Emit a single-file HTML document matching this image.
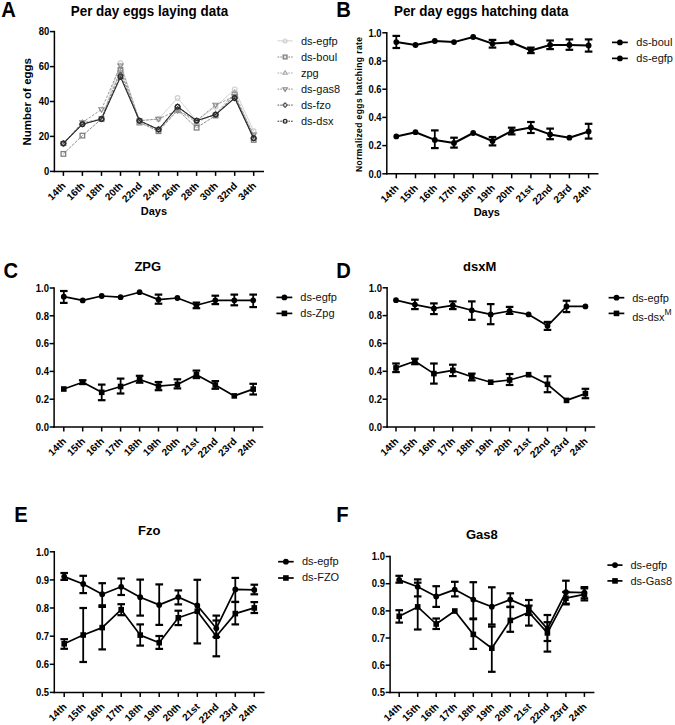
<!DOCTYPE html>
<html><head><meta charset="utf-8"><style>
html,body{margin:0;padding:0;background:#fff;}
svg{display:block;}
text{font-family:"Liberation Sans", sans-serif;}
</style></head><body>
<svg width="675" height="725" viewBox="0 0 675 725" font-family='"Liberation Sans", sans-serif'>
<defs><clipPath id="clipA"><rect x="0" y="0" width="340" height="240"/></clipPath></defs>
<rect width="675" height="725" fill="#fff"/>
<g clip-path="url(#clipA)">
<line x1="54.4" y1="30.8" x2="54.4" y2="172.20000000000002" stroke="#000" stroke-width="1.5"/>
<line x1="53.6" y1="171.4" x2="264" y2="171.4" stroke="#000" stroke-width="1.5"/>
<line x1="49.9" y1="171.4" x2="54.4" y2="171.4" stroke="#000" stroke-width="1.5"/>
<text transform="translate(49.20,175.20) scale(0.9,1)" font-size="10.5" font-weight="bold" text-anchor="end">0</text>
<line x1="49.9" y1="136.4" x2="54.4" y2="136.4" stroke="#000" stroke-width="1.5"/>
<text transform="translate(49.20,140.25) scale(0.9,1)" font-size="10.5" font-weight="bold" text-anchor="end">20</text>
<line x1="49.9" y1="101.5" x2="54.4" y2="101.5" stroke="#000" stroke-width="1.5"/>
<text transform="translate(49.20,105.30) scale(0.9,1)" font-size="10.5" font-weight="bold" text-anchor="end">40</text>
<line x1="49.9" y1="66.6" x2="54.4" y2="66.6" stroke="#000" stroke-width="1.5"/>
<text transform="translate(49.20,70.35) scale(0.9,1)" font-size="10.5" font-weight="bold" text-anchor="end">60</text>
<line x1="49.9" y1="31.6" x2="54.4" y2="31.6" stroke="#000" stroke-width="1.5"/>
<text transform="translate(49.20,35.40) scale(0.9,1)" font-size="10.5" font-weight="bold" text-anchor="end">80</text>
<line x1="63.4" y1="171.4" x2="63.4" y2="175.9" stroke="#000" stroke-width="1.5"/>
<text transform="translate(66.4,186.4) rotate(-45)" font-size="10" font-weight="bold" text-anchor="end">14th</text>
<line x1="82.4" y1="171.4" x2="82.4" y2="175.9" stroke="#000" stroke-width="1.5"/>
<text transform="translate(85.4,186.4) rotate(-45)" font-size="10" font-weight="bold" text-anchor="end">16th</text>
<line x1="101.5" y1="171.4" x2="101.5" y2="175.9" stroke="#000" stroke-width="1.5"/>
<text transform="translate(104.5,186.4) rotate(-45)" font-size="10" font-weight="bold" text-anchor="end">18th</text>
<line x1="120.5" y1="171.4" x2="120.5" y2="175.9" stroke="#000" stroke-width="1.5"/>
<text transform="translate(123.5,186.4) rotate(-45)" font-size="10" font-weight="bold" text-anchor="end">20th</text>
<line x1="139.5" y1="171.4" x2="139.5" y2="175.9" stroke="#000" stroke-width="1.5"/>
<text transform="translate(142.5,186.4) rotate(-45)" font-size="10" font-weight="bold" text-anchor="end">22nd</text>
<line x1="158.6" y1="171.4" x2="158.6" y2="175.9" stroke="#000" stroke-width="1.5"/>
<text transform="translate(161.6,186.4) rotate(-45)" font-size="10" font-weight="bold" text-anchor="end">24th</text>
<line x1="177.6" y1="171.4" x2="177.6" y2="175.9" stroke="#000" stroke-width="1.5"/>
<text transform="translate(180.6,186.4) rotate(-45)" font-size="10" font-weight="bold" text-anchor="end">26th</text>
<line x1="196.6" y1="171.4" x2="196.6" y2="175.9" stroke="#000" stroke-width="1.5"/>
<text transform="translate(199.6,186.4) rotate(-45)" font-size="10" font-weight="bold" text-anchor="end">28th</text>
<line x1="215.6" y1="171.4" x2="215.6" y2="175.9" stroke="#000" stroke-width="1.5"/>
<text transform="translate(218.6,186.4) rotate(-45)" font-size="10" font-weight="bold" text-anchor="end">30th</text>
<line x1="234.7" y1="171.4" x2="234.7" y2="175.9" stroke="#000" stroke-width="1.5"/>
<text transform="translate(237.7,186.4) rotate(-45)" font-size="10" font-weight="bold" text-anchor="end">32nd</text>
<line x1="253.7" y1="171.4" x2="253.7" y2="175.9" stroke="#000" stroke-width="1.5"/>
<text transform="translate(256.7,186.4) rotate(-45)" font-size="10" font-weight="bold" text-anchor="end">34th</text>
<polyline points="63.4,143.4 82.4,124.2 101.5,119.0 120.5,63.1 139.5,120.7 158.6,119.0 177.6,98.0 196.6,120.7 215.6,106.7 234.7,89.3 253.7,131.2" fill="none" stroke="#cfcfcf" stroke-width="0.9"/>
<circle cx="63.4" cy="143.4" r="2.3" fill="none" stroke="#cfcfcf" stroke-width="1.2"/>
<circle cx="82.4" cy="124.2" r="2.3" fill="none" stroke="#cfcfcf" stroke-width="1.2"/>
<circle cx="101.5" cy="119.0" r="2.3" fill="none" stroke="#cfcfcf" stroke-width="1.2"/>
<circle cx="120.5" cy="63.1" r="2.3" fill="none" stroke="#cfcfcf" stroke-width="1.2"/>
<circle cx="139.5" cy="120.7" r="2.3" fill="none" stroke="#cfcfcf" stroke-width="1.2"/>
<circle cx="158.6" cy="119.0" r="2.3" fill="none" stroke="#cfcfcf" stroke-width="1.2"/>
<circle cx="177.6" cy="98.0" r="2.3" fill="none" stroke="#cfcfcf" stroke-width="1.2"/>
<circle cx="196.6" cy="120.7" r="2.3" fill="none" stroke="#cfcfcf" stroke-width="1.2"/>
<circle cx="215.6" cy="106.7" r="2.3" fill="none" stroke="#cfcfcf" stroke-width="1.2"/>
<circle cx="234.7" cy="89.3" r="2.3" fill="none" stroke="#cfcfcf" stroke-width="1.2"/>
<circle cx="253.7" cy="131.2" r="2.3" fill="none" stroke="#cfcfcf" stroke-width="1.2"/>
<polyline points="63.4,153.9 82.4,135.6 101.5,119.0 120.5,70.0 139.5,122.5 158.6,131.2 177.6,110.2 196.6,127.7 215.6,115.5 234.7,94.5 253.7,139.9" fill="none" stroke="#808080" stroke-width="0.9" stroke-dasharray="3,1"/>
<rect x="61.1" y="151.6" width="4.6" height="4.6" fill="none" stroke="#808080" stroke-width="1.3"/>
<rect x="80.1" y="133.3" width="4.6" height="4.6" fill="none" stroke="#808080" stroke-width="1.3"/>
<rect x="99.2" y="116.7" width="4.6" height="4.6" fill="none" stroke="#808080" stroke-width="1.3"/>
<rect x="118.2" y="67.7" width="4.6" height="4.6" fill="none" stroke="#808080" stroke-width="1.3"/>
<rect x="137.2" y="120.2" width="4.6" height="4.6" fill="none" stroke="#808080" stroke-width="1.3"/>
<rect x="156.2" y="128.9" width="4.6" height="4.6" fill="none" stroke="#808080" stroke-width="1.3"/>
<rect x="175.3" y="107.9" width="4.6" height="4.6" fill="none" stroke="#808080" stroke-width="1.3"/>
<rect x="194.3" y="125.4" width="4.6" height="4.6" fill="none" stroke="#808080" stroke-width="1.3"/>
<rect x="213.3" y="113.2" width="4.6" height="4.6" fill="none" stroke="#808080" stroke-width="1.3"/>
<rect x="232.4" y="92.2" width="4.6" height="4.6" fill="none" stroke="#808080" stroke-width="1.3"/>
<rect x="251.4" y="137.6" width="4.6" height="4.6" fill="none" stroke="#808080" stroke-width="1.3"/>
<polyline points="63.4,143.4 82.4,122.5 101.5,119.0 120.5,71.8 139.5,122.5 158.6,129.5 177.6,110.2 196.6,122.5 215.6,113.7 234.7,92.8 253.7,136.4" fill="none" stroke="#a8a8a8" stroke-width="0.9" stroke-dasharray="2.5,1.5"/>
<path d="M63.4,140.7 L66.1,145.1 L60.7,145.1 Z" fill="none" stroke="#a8a8a8" stroke-width="1.1"/>
<path d="M82.4,119.8 L85.1,124.2 L79.7,124.2 Z" fill="none" stroke="#a8a8a8" stroke-width="1.1"/>
<path d="M101.5,116.3 L104.2,120.7 L98.8,120.7 Z" fill="none" stroke="#a8a8a8" stroke-width="1.1"/>
<path d="M120.5,69.1 L123.2,73.5 L117.8,73.5 Z" fill="none" stroke="#a8a8a8" stroke-width="1.1"/>
<path d="M139.5,119.8 L142.2,124.2 L136.8,124.2 Z" fill="none" stroke="#a8a8a8" stroke-width="1.1"/>
<path d="M158.6,126.8 L161.3,131.2 L155.8,131.2 Z" fill="none" stroke="#a8a8a8" stroke-width="1.1"/>
<path d="M177.6,107.5 L180.3,111.9 L174.9,111.9 Z" fill="none" stroke="#a8a8a8" stroke-width="1.1"/>
<path d="M196.6,119.8 L199.3,124.2 L193.9,124.2 Z" fill="none" stroke="#a8a8a8" stroke-width="1.1"/>
<path d="M215.6,111.0 L218.3,115.4 L212.9,115.4 Z" fill="none" stroke="#a8a8a8" stroke-width="1.1"/>
<path d="M234.7,90.1 L237.4,94.5 L232.0,94.5 Z" fill="none" stroke="#a8a8a8" stroke-width="1.1"/>
<path d="M253.7,133.7 L256.4,138.2 L251.0,138.2 Z" fill="none" stroke="#a8a8a8" stroke-width="1.1"/>
<polyline points="63.4,143.4 82.4,122.5 101.5,109.4 120.5,65.7 139.5,120.7 158.6,119.0 177.6,110.2 196.6,120.7 215.6,105.0 234.7,96.3 253.7,134.7" fill="none" stroke="#8a8a8a" stroke-width="0.9" stroke-dasharray="2.5,1.5"/>
<path d="M63.4,146.1 L66.1,141.7 L60.7,141.7 Z" fill="none" stroke="#8a8a8a" stroke-width="1.1"/>
<path d="M82.4,125.2 L85.1,120.8 L79.7,120.8 Z" fill="none" stroke="#8a8a8a" stroke-width="1.1"/>
<path d="M101.5,112.1 L104.2,107.7 L98.8,107.7 Z" fill="none" stroke="#8a8a8a" stroke-width="1.1"/>
<path d="M120.5,68.4 L123.2,64.0 L117.8,64.0 Z" fill="none" stroke="#8a8a8a" stroke-width="1.1"/>
<path d="M139.5,123.4 L142.2,119.0 L136.8,119.0 Z" fill="none" stroke="#8a8a8a" stroke-width="1.1"/>
<path d="M158.6,121.7 L161.3,117.3 L155.8,117.3 Z" fill="none" stroke="#8a8a8a" stroke-width="1.1"/>
<path d="M177.6,112.9 L180.3,108.5 L174.9,108.5 Z" fill="none" stroke="#8a8a8a" stroke-width="1.1"/>
<path d="M196.6,123.4 L199.3,119.0 L193.9,119.0 Z" fill="none" stroke="#8a8a8a" stroke-width="1.1"/>
<path d="M215.6,107.7 L218.3,103.3 L212.9,103.3 Z" fill="none" stroke="#8a8a8a" stroke-width="1.1"/>
<path d="M234.7,99.0 L237.4,94.6 L232.0,94.6 Z" fill="none" stroke="#8a8a8a" stroke-width="1.1"/>
<path d="M253.7,137.4 L256.4,133.0 L251.0,133.0 Z" fill="none" stroke="#8a8a8a" stroke-width="1.1"/>
<polyline points="63.4,143.4 82.4,124.2 101.5,119.0 120.5,75.3 139.5,120.7 158.6,129.5 177.6,106.7 196.6,120.7 215.6,114.6 234.7,98.0 253.7,138.2" fill="none" stroke="#555" stroke-width="0.9" stroke-dasharray="2.5,1.5"/>
<path d="M63.4,140.7 L66.1,143.4 L63.4,146.1 L60.7,143.4 Z" fill="none" stroke="#555" stroke-width="1.1"/>
<path d="M82.4,121.5 L85.1,124.2 L82.4,126.9 L79.7,124.2 Z" fill="none" stroke="#555" stroke-width="1.1"/>
<path d="M101.5,116.3 L104.2,119.0 L101.5,121.7 L98.8,119.0 Z" fill="none" stroke="#555" stroke-width="1.1"/>
<path d="M120.5,72.6 L123.2,75.3 L120.5,78.0 L117.8,75.3 Z" fill="none" stroke="#555" stroke-width="1.1"/>
<path d="M139.5,118.0 L142.2,120.7 L139.5,123.4 L136.8,120.7 Z" fill="none" stroke="#555" stroke-width="1.1"/>
<path d="M158.6,126.8 L161.3,129.5 L158.6,132.2 L155.8,129.5 Z" fill="none" stroke="#555" stroke-width="1.1"/>
<path d="M177.6,104.0 L180.3,106.7 L177.6,109.4 L174.9,106.7 Z" fill="none" stroke="#555" stroke-width="1.1"/>
<path d="M196.6,118.0 L199.3,120.7 L196.6,123.4 L193.9,120.7 Z" fill="none" stroke="#555" stroke-width="1.1"/>
<path d="M215.6,111.9 L218.3,114.6 L215.6,117.3 L212.9,114.6 Z" fill="none" stroke="#555" stroke-width="1.1"/>
<path d="M234.7,95.3 L237.4,98.0 L234.7,100.7 L232.0,98.0 Z" fill="none" stroke="#555" stroke-width="1.1"/>
<path d="M253.7,135.5 L256.4,138.2 L253.7,140.9 L251.0,138.2 Z" fill="none" stroke="#555" stroke-width="1.1"/>
<polyline points="63.4,143.4 82.4,124.2 101.5,119.0 120.5,77.0 139.5,120.7 158.6,129.5 177.6,106.7 196.6,120.7 215.6,114.6 234.7,98.0 253.7,138.2" fill="none" stroke="#2a2a2a" stroke-width="1.1"/>
<circle cx="63.4" cy="143.4" r="2.3" fill="none" stroke="#2a2a2a" stroke-width="1.2"/>
<circle cx="82.4" cy="124.2" r="2.3" fill="none" stroke="#2a2a2a" stroke-width="1.2"/>
<circle cx="101.5" cy="119.0" r="2.3" fill="none" stroke="#2a2a2a" stroke-width="1.2"/>
<circle cx="120.5" cy="77.0" r="2.3" fill="none" stroke="#2a2a2a" stroke-width="1.2"/>
<circle cx="139.5" cy="120.7" r="2.3" fill="none" stroke="#2a2a2a" stroke-width="1.2"/>
<circle cx="158.6" cy="129.5" r="2.3" fill="none" stroke="#2a2a2a" stroke-width="1.2"/>
<circle cx="177.6" cy="106.7" r="2.3" fill="none" stroke="#2a2a2a" stroke-width="1.2"/>
<circle cx="196.6" cy="120.7" r="2.3" fill="none" stroke="#2a2a2a" stroke-width="1.2"/>
<circle cx="215.6" cy="114.6" r="2.3" fill="none" stroke="#2a2a2a" stroke-width="1.2"/>
<circle cx="234.7" cy="98.0" r="2.3" fill="none" stroke="#2a2a2a" stroke-width="1.2"/>
<circle cx="253.7" cy="138.2" r="2.3" fill="none" stroke="#2a2a2a" stroke-width="1.2"/>
<line x1="277.6" y1="40.9" x2="292.7" y2="40.9" stroke="#cfcfcf" stroke-width="1"/>
<circle cx="285.1" cy="40.9" r="1.9" fill="none" stroke="#cfcfcf" stroke-width="1.2"/>
<text x="301.0" y="44.8" font-size="11" text-anchor="start" fill="#111" >ds-egfp</text>
<line x1="277.6" y1="57.0" x2="292.7" y2="57.0" stroke="#808080" stroke-width="1" stroke-dasharray="1.6,1.1"/>
<rect x="283.2" y="55.1" width="3.8" height="3.8" fill="none" stroke="#808080" stroke-width="1.3"/>
<text x="301.0" y="60.9" font-size="11" text-anchor="start" fill="#111" >ds-boul</text>
<line x1="277.6" y1="73.0" x2="292.7" y2="73.0" stroke="#a8a8a8" stroke-width="1" stroke-dasharray="1.6,1.1"/>
<path d="M285.1,70.7 L287.4,74.3 L282.8,74.3 Z" fill="none" stroke="#a8a8a8" stroke-width="1.1"/>
<text x="301.0" y="76.9" font-size="11" text-anchor="start" fill="#111" >zpg</text>
<line x1="277.6" y1="89.1" x2="292.7" y2="89.1" stroke="#8a8a8a" stroke-width="1" stroke-dasharray="1.6,1.1"/>
<path d="M285.1,91.4 L287.4,87.8 L282.8,87.8 Z" fill="none" stroke="#8a8a8a" stroke-width="1.1"/>
<text x="301.0" y="93.0" font-size="11" text-anchor="start" fill="#111" >ds-gas8</text>
<line x1="277.6" y1="105.1" x2="292.7" y2="105.1" stroke="#555" stroke-width="1" stroke-dasharray="1.6,1.1"/>
<path d="M285.1,102.8 L287.4,105.1 L285.1,107.4 L282.8,105.1 Z" fill="none" stroke="#555" stroke-width="1.1"/>
<text x="301.0" y="109.0" font-size="11" text-anchor="start" fill="#111" >ds-fzo</text>
<line x1="277.6" y1="121.2" x2="292.7" y2="121.2" stroke="#2a2a2a" stroke-width="1" stroke-dasharray="1.6,1.1"/>
<circle cx="285.1" cy="121.2" r="1.9" fill="none" stroke="#2a2a2a" stroke-width="1.2"/>
<text x="301.0" y="125.1" font-size="11" text-anchor="start" fill="#111" >ds-dsx</text>
</g>
<text transform="translate(1.20,16.50) scale(0.92,1)" font-size="22" font-weight="bold" text-anchor="start">A</text>
<text transform="translate(149.40,16.00) scale(0.92,1)" font-size="14.6" font-weight="bold" text-anchor="middle">Per day eggs laying data</text>
<text x="153.9" y="215.3" font-size="11" font-weight="bold" text-anchor="middle" fill="#000" >Days</text>
<text transform="translate(31,101.8) rotate(-90)" font-size="11.5" font-weight="bold" text-anchor="middle">Number of eggs</text>
<line x1="386.8" y1="31.999999999999996" x2="386.8" y2="174.60000000000002" stroke="#000" stroke-width="1.5"/>
<line x1="386.0" y1="173.8" x2="598.5" y2="173.8" stroke="#000" stroke-width="1.5"/>
<line x1="382.3" y1="173.8" x2="386.8" y2="173.8" stroke="#000" stroke-width="1.5"/>
<text transform="translate(381.60,177.60) scale(0.9,1)" font-size="10.5" font-weight="bold" text-anchor="end">0.0</text>
<line x1="382.3" y1="145.6" x2="386.8" y2="145.6" stroke="#000" stroke-width="1.5"/>
<text transform="translate(381.60,149.40) scale(0.9,1)" font-size="10.5" font-weight="bold" text-anchor="end">0.2</text>
<line x1="382.3" y1="117.4" x2="386.8" y2="117.4" stroke="#000" stroke-width="1.5"/>
<text transform="translate(381.60,121.20) scale(0.9,1)" font-size="10.5" font-weight="bold" text-anchor="end">0.4</text>
<line x1="382.3" y1="89.2" x2="386.8" y2="89.2" stroke="#000" stroke-width="1.5"/>
<text transform="translate(381.60,93.00) scale(0.9,1)" font-size="10.5" font-weight="bold" text-anchor="end">0.6</text>
<line x1="382.3" y1="61.0" x2="386.8" y2="61.0" stroke="#000" stroke-width="1.5"/>
<text transform="translate(381.60,64.80) scale(0.9,1)" font-size="10.5" font-weight="bold" text-anchor="end">0.8</text>
<line x1="382.3" y1="32.8" x2="386.8" y2="32.8" stroke="#000" stroke-width="1.5"/>
<text transform="translate(381.60,36.60) scale(0.9,1)" font-size="10.5" font-weight="bold" text-anchor="end">1.0</text>
<line x1="396.3" y1="173.8" x2="396.3" y2="178.3" stroke="#000" stroke-width="1.5"/>
<text transform="translate(399.3,188.8) rotate(-45)" font-size="10" font-weight="bold" text-anchor="end">14th</text>
<line x1="415.5" y1="173.8" x2="415.5" y2="178.3" stroke="#000" stroke-width="1.5"/>
<text transform="translate(418.5,188.8) rotate(-45)" font-size="10" font-weight="bold" text-anchor="end">15th</text>
<line x1="434.8" y1="173.8" x2="434.8" y2="178.3" stroke="#000" stroke-width="1.5"/>
<text transform="translate(437.8,188.8) rotate(-45)" font-size="10" font-weight="bold" text-anchor="end">16th</text>
<line x1="454.0" y1="173.8" x2="454.0" y2="178.3" stroke="#000" stroke-width="1.5"/>
<text transform="translate(457.0,188.8) rotate(-45)" font-size="10" font-weight="bold" text-anchor="end">17th</text>
<line x1="473.2" y1="173.8" x2="473.2" y2="178.3" stroke="#000" stroke-width="1.5"/>
<text transform="translate(476.2,188.8) rotate(-45)" font-size="10" font-weight="bold" text-anchor="end">18th</text>
<line x1="492.5" y1="173.8" x2="492.5" y2="178.3" stroke="#000" stroke-width="1.5"/>
<text transform="translate(495.5,188.8) rotate(-45)" font-size="10" font-weight="bold" text-anchor="end">19th</text>
<line x1="511.7" y1="173.8" x2="511.7" y2="178.3" stroke="#000" stroke-width="1.5"/>
<text transform="translate(514.7,188.8) rotate(-45)" font-size="10" font-weight="bold" text-anchor="end">20th</text>
<line x1="530.9" y1="173.8" x2="530.9" y2="178.3" stroke="#000" stroke-width="1.5"/>
<text transform="translate(533.9,188.8) rotate(-45)" font-size="10" font-weight="bold" text-anchor="end">21st</text>
<line x1="550.1" y1="173.8" x2="550.1" y2="178.3" stroke="#000" stroke-width="1.5"/>
<text transform="translate(553.1,188.8) rotate(-45)" font-size="10" font-weight="bold" text-anchor="end">22nd</text>
<line x1="569.4" y1="173.8" x2="569.4" y2="178.3" stroke="#000" stroke-width="1.5"/>
<text transform="translate(572.4,188.8) rotate(-45)" font-size="10" font-weight="bold" text-anchor="end">23rd</text>
<line x1="588.6" y1="173.8" x2="588.6" y2="178.3" stroke="#000" stroke-width="1.5"/>
<text transform="translate(591.6,188.8) rotate(-45)" font-size="10" font-weight="bold" text-anchor="end">24th</text>
<polyline points="396.3,42.1 415.5,45.0 434.8,41.0 454.0,42.1 473.2,37.0 492.5,43.6 511.7,42.5 530.9,50.5 550.1,45.0 569.4,45.0 588.6,45.4" fill="none" stroke="#000" stroke-width="2.0" stroke-linejoin="round"/>
<line x1="396.3" y1="35.9" x2="396.3" y2="48.0" stroke="#000" stroke-width="1.8"/>
<line x1="392.5" y1="35.9" x2="400.1" y2="35.9" stroke="#000" stroke-width="2.2"/>
<line x1="392.5" y1="48.0" x2="400.1" y2="48.0" stroke="#000" stroke-width="2.2"/>
<line x1="492.5" y1="39.9" x2="492.5" y2="47.6" stroke="#000" stroke-width="1.8"/>
<line x1="488.7" y1="39.9" x2="496.3" y2="39.9" stroke="#000" stroke-width="2.2"/>
<line x1="488.7" y1="47.6" x2="496.3" y2="47.6" stroke="#000" stroke-width="2.2"/>
<line x1="530.9" y1="47.6" x2="530.9" y2="53.1" stroke="#000" stroke-width="1.8"/>
<line x1="527.1" y1="47.6" x2="534.7" y2="47.6" stroke="#000" stroke-width="2.2"/>
<line x1="527.1" y1="53.1" x2="534.7" y2="53.1" stroke="#000" stroke-width="2.2"/>
<line x1="550.1" y1="40.5" x2="550.1" y2="49.1" stroke="#000" stroke-width="1.8"/>
<line x1="546.3" y1="40.5" x2="553.9" y2="40.5" stroke="#000" stroke-width="2.2"/>
<line x1="546.3" y1="49.1" x2="553.9" y2="49.1" stroke="#000" stroke-width="2.2"/>
<line x1="569.4" y1="39.4" x2="569.4" y2="49.8" stroke="#000" stroke-width="1.8"/>
<line x1="565.6" y1="39.4" x2="573.2" y2="39.4" stroke="#000" stroke-width="2.2"/>
<line x1="565.6" y1="49.8" x2="573.2" y2="49.8" stroke="#000" stroke-width="2.2"/>
<line x1="588.6" y1="39.4" x2="588.6" y2="51.6" stroke="#000" stroke-width="1.8"/>
<line x1="584.8" y1="39.4" x2="592.4" y2="39.4" stroke="#000" stroke-width="2.2"/>
<line x1="584.8" y1="51.6" x2="592.4" y2="51.6" stroke="#000" stroke-width="2.2"/>
<circle cx="396.3" cy="42.1" r="2.9" fill="#000"/>
<circle cx="415.5" cy="45.0" r="2.9" fill="#000"/>
<circle cx="434.8" cy="41.0" r="2.9" fill="#000"/>
<circle cx="454.0" cy="42.1" r="2.9" fill="#000"/>
<circle cx="473.2" cy="37.0" r="2.9" fill="#000"/>
<circle cx="492.5" cy="43.6" r="2.9" fill="#000"/>
<circle cx="511.7" cy="42.5" r="2.9" fill="#000"/>
<circle cx="530.9" cy="50.5" r="2.9" fill="#000"/>
<circle cx="550.1" cy="45.0" r="2.9" fill="#000"/>
<circle cx="569.4" cy="45.0" r="2.9" fill="#000"/>
<circle cx="588.6" cy="45.4" r="2.9" fill="#000"/>
<polyline points="396.3,136.4 415.5,132.2 434.8,139.9 454.0,143.0 473.2,133.0 492.5,141.0 511.7,131.1 530.9,127.5 550.1,134.4 569.4,137.7 588.6,131.5" fill="none" stroke="#000" stroke-width="2.0" stroke-linejoin="round"/>
<line x1="434.8" y1="130.4" x2="434.8" y2="148.1" stroke="#000" stroke-width="1.8"/>
<line x1="431.0" y1="130.4" x2="438.6" y2="130.4" stroke="#000" stroke-width="2.2"/>
<line x1="431.0" y1="148.1" x2="438.6" y2="148.1" stroke="#000" stroke-width="2.2"/>
<line x1="454.0" y1="137.7" x2="454.0" y2="147.6" stroke="#000" stroke-width="1.8"/>
<line x1="450.2" y1="137.7" x2="457.8" y2="137.7" stroke="#000" stroke-width="2.2"/>
<line x1="450.2" y1="147.6" x2="457.8" y2="147.6" stroke="#000" stroke-width="2.2"/>
<line x1="492.5" y1="137.0" x2="492.5" y2="145.4" stroke="#000" stroke-width="1.8"/>
<line x1="488.7" y1="137.0" x2="496.3" y2="137.0" stroke="#000" stroke-width="2.2"/>
<line x1="488.7" y1="145.4" x2="496.3" y2="145.4" stroke="#000" stroke-width="2.2"/>
<line x1="511.7" y1="127.7" x2="511.7" y2="134.4" stroke="#000" stroke-width="1.8"/>
<line x1="507.9" y1="127.7" x2="515.5" y2="127.7" stroke="#000" stroke-width="2.2"/>
<line x1="507.9" y1="134.4" x2="515.5" y2="134.4" stroke="#000" stroke-width="2.2"/>
<line x1="530.9" y1="122.0" x2="530.9" y2="133.0" stroke="#000" stroke-width="1.8"/>
<line x1="527.1" y1="122.0" x2="534.7" y2="122.0" stroke="#000" stroke-width="2.2"/>
<line x1="527.1" y1="133.0" x2="534.7" y2="133.0" stroke="#000" stroke-width="2.2"/>
<line x1="550.1" y1="128.6" x2="550.1" y2="139.2" stroke="#000" stroke-width="1.8"/>
<line x1="546.3" y1="128.6" x2="553.9" y2="128.6" stroke="#000" stroke-width="2.2"/>
<line x1="546.3" y1="139.2" x2="553.9" y2="139.2" stroke="#000" stroke-width="2.2"/>
<line x1="588.6" y1="123.8" x2="588.6" y2="138.6" stroke="#000" stroke-width="1.8"/>
<line x1="584.8" y1="123.8" x2="592.4" y2="123.8" stroke="#000" stroke-width="2.2"/>
<line x1="584.8" y1="138.6" x2="592.4" y2="138.6" stroke="#000" stroke-width="2.2"/>
<circle cx="396.3" cy="136.4" r="2.9" fill="#000"/>
<circle cx="415.5" cy="132.2" r="2.9" fill="#000"/>
<circle cx="434.8" cy="139.9" r="2.9" fill="#000"/>
<circle cx="454.0" cy="143.0" r="2.9" fill="#000"/>
<circle cx="473.2" cy="133.0" r="2.9" fill="#000"/>
<circle cx="492.5" cy="141.0" r="2.9" fill="#000"/>
<circle cx="511.7" cy="131.1" r="2.9" fill="#000"/>
<circle cx="530.9" cy="127.5" r="2.9" fill="#000"/>
<circle cx="550.1" cy="134.4" r="2.9" fill="#000"/>
<circle cx="569.4" cy="137.7" r="2.9" fill="#000"/>
<circle cx="588.6" cy="131.5" r="2.9" fill="#000"/>
<line x1="612" y1="42.4" x2="627.8" y2="42.4" stroke="#000" stroke-width="1.7"/>
<circle cx="619.9" cy="42.4" r="2.9" fill="#000"/>
<text x="636.3" y="46.2" font-size="11" text-anchor="start" fill="#111" >ds-boul</text>
<line x1="612" y1="58.4" x2="627.8" y2="58.4" stroke="#000" stroke-width="1.7"/>
<circle cx="619.9" cy="58.4" r="2.9" fill="#000"/>
<text x="636.3" y="62.2" font-size="11" text-anchor="start" fill="#111" >ds-egfp</text>
<text transform="translate(336.30,16.50) scale(0.92,1)" font-size="22" font-weight="bold" text-anchor="start">B</text>
<text transform="translate(481.20,16.00) scale(0.92,1)" font-size="14.6" font-weight="bold" text-anchor="middle">Per day eggs hatching data</text>
<text x="486.8" y="215.5" font-size="11" font-weight="bold" text-anchor="middle" fill="#000" >Days</text>
<text transform="translate(361.6,104.5) rotate(-90)" font-size="8.5" font-weight="bold" text-anchor="middle" textLength="135" lengthAdjust="spacing">Normalized eggs hatching rate</text>
<line x1="54.1" y1="287.2" x2="54.1" y2="427.8" stroke="#000" stroke-width="1.5"/>
<line x1="53.300000000000004" y1="427.0" x2="263.2" y2="427.0" stroke="#000" stroke-width="1.5"/>
<line x1="49.6" y1="427.0" x2="54.1" y2="427.0" stroke="#000" stroke-width="1.5"/>
<text transform="translate(48.90,430.80) scale(0.9,1)" font-size="10.5" font-weight="bold" text-anchor="end">0.0</text>
<line x1="49.6" y1="399.2" x2="54.1" y2="399.2" stroke="#000" stroke-width="1.5"/>
<text transform="translate(48.90,403.00) scale(0.9,1)" font-size="10.5" font-weight="bold" text-anchor="end">0.2</text>
<line x1="49.6" y1="371.4" x2="54.1" y2="371.4" stroke="#000" stroke-width="1.5"/>
<text transform="translate(48.90,375.20) scale(0.9,1)" font-size="10.5" font-weight="bold" text-anchor="end">0.4</text>
<line x1="49.6" y1="343.6" x2="54.1" y2="343.6" stroke="#000" stroke-width="1.5"/>
<text transform="translate(48.90,347.40) scale(0.9,1)" font-size="10.5" font-weight="bold" text-anchor="end">0.6</text>
<line x1="49.6" y1="315.8" x2="54.1" y2="315.8" stroke="#000" stroke-width="1.5"/>
<text transform="translate(48.90,319.60) scale(0.9,1)" font-size="10.5" font-weight="bold" text-anchor="end">0.8</text>
<line x1="49.6" y1="288.0" x2="54.1" y2="288.0" stroke="#000" stroke-width="1.5"/>
<text transform="translate(48.90,291.80) scale(0.9,1)" font-size="10.5" font-weight="bold" text-anchor="end">1.0</text>
<line x1="63.8" y1="427.0" x2="63.8" y2="431.5" stroke="#000" stroke-width="1.5"/>
<text transform="translate(66.8,442.0) rotate(-45)" font-size="10" font-weight="bold" text-anchor="end">14th</text>
<line x1="82.7" y1="427.0" x2="82.7" y2="431.5" stroke="#000" stroke-width="1.5"/>
<text transform="translate(85.7,442.0) rotate(-45)" font-size="10" font-weight="bold" text-anchor="end">15th</text>
<line x1="101.7" y1="427.0" x2="101.7" y2="431.5" stroke="#000" stroke-width="1.5"/>
<text transform="translate(104.7,442.0) rotate(-45)" font-size="10" font-weight="bold" text-anchor="end">16th</text>
<line x1="120.6" y1="427.0" x2="120.6" y2="431.5" stroke="#000" stroke-width="1.5"/>
<text transform="translate(123.6,442.0) rotate(-45)" font-size="10" font-weight="bold" text-anchor="end">17th</text>
<line x1="139.6" y1="427.0" x2="139.6" y2="431.5" stroke="#000" stroke-width="1.5"/>
<text transform="translate(142.6,442.0) rotate(-45)" font-size="10" font-weight="bold" text-anchor="end">18th</text>
<line x1="158.5" y1="427.0" x2="158.5" y2="431.5" stroke="#000" stroke-width="1.5"/>
<text transform="translate(161.5,442.0) rotate(-45)" font-size="10" font-weight="bold" text-anchor="end">19th</text>
<line x1="177.4" y1="427.0" x2="177.4" y2="431.5" stroke="#000" stroke-width="1.5"/>
<text transform="translate(180.4,442.0) rotate(-45)" font-size="10" font-weight="bold" text-anchor="end">20th</text>
<line x1="196.4" y1="427.0" x2="196.4" y2="431.5" stroke="#000" stroke-width="1.5"/>
<text transform="translate(199.4,442.0) rotate(-45)" font-size="10" font-weight="bold" text-anchor="end">21st</text>
<line x1="215.3" y1="427.0" x2="215.3" y2="431.5" stroke="#000" stroke-width="1.5"/>
<text transform="translate(218.3,442.0) rotate(-45)" font-size="10" font-weight="bold" text-anchor="end">22nd</text>
<line x1="234.3" y1="427.0" x2="234.3" y2="431.5" stroke="#000" stroke-width="1.5"/>
<text transform="translate(237.3,442.0) rotate(-45)" font-size="10" font-weight="bold" text-anchor="end">23rd</text>
<line x1="253.2" y1="427.0" x2="253.2" y2="431.5" stroke="#000" stroke-width="1.5"/>
<text transform="translate(256.2,442.0) rotate(-45)" font-size="10" font-weight="bold" text-anchor="end">24th</text>
<polyline points="63.8,296.7 82.7,300.4 101.7,296.0 120.6,297.2 139.6,292.2 158.5,299.6 177.4,298.0 196.4,305.3 215.3,300.3 234.3,300.3 253.2,300.3" fill="none" stroke="#000" stroke-width="1.7" stroke-linejoin="round"/>
<line x1="63.8" y1="291.0" x2="63.8" y2="302.9" stroke="#000" stroke-width="1.8"/>
<line x1="60.0" y1="291.0" x2="67.6" y2="291.0" stroke="#000" stroke-width="2.2"/>
<line x1="60.0" y1="302.9" x2="67.6" y2="302.9" stroke="#000" stroke-width="2.2"/>
<line x1="158.5" y1="294.6" x2="158.5" y2="303.7" stroke="#000" stroke-width="1.8"/>
<line x1="154.7" y1="294.6" x2="162.3" y2="294.6" stroke="#000" stroke-width="2.2"/>
<line x1="154.7" y1="303.7" x2="162.3" y2="303.7" stroke="#000" stroke-width="2.2"/>
<line x1="196.4" y1="302.6" x2="196.4" y2="308.2" stroke="#000" stroke-width="1.8"/>
<line x1="192.6" y1="302.6" x2="200.2" y2="302.6" stroke="#000" stroke-width="2.2"/>
<line x1="192.6" y1="308.2" x2="200.2" y2="308.2" stroke="#000" stroke-width="2.2"/>
<line x1="215.3" y1="295.7" x2="215.3" y2="304.1" stroke="#000" stroke-width="1.8"/>
<line x1="211.5" y1="295.7" x2="219.1" y2="295.7" stroke="#000" stroke-width="2.2"/>
<line x1="211.5" y1="304.1" x2="219.1" y2="304.1" stroke="#000" stroke-width="2.2"/>
<line x1="234.3" y1="294.6" x2="234.3" y2="305.3" stroke="#000" stroke-width="1.8"/>
<line x1="230.5" y1="294.6" x2="238.1" y2="294.6" stroke="#000" stroke-width="2.2"/>
<line x1="230.5" y1="305.3" x2="238.1" y2="305.3" stroke="#000" stroke-width="2.2"/>
<line x1="253.2" y1="294.6" x2="253.2" y2="307.1" stroke="#000" stroke-width="1.8"/>
<line x1="249.4" y1="294.6" x2="257.0" y2="294.6" stroke="#000" stroke-width="2.2"/>
<line x1="249.4" y1="307.1" x2="257.0" y2="307.1" stroke="#000" stroke-width="2.2"/>
<circle cx="63.8" cy="296.7" r="2.9" fill="#000"/>
<circle cx="82.7" cy="300.4" r="2.9" fill="#000"/>
<circle cx="101.7" cy="296.0" r="2.9" fill="#000"/>
<circle cx="120.6" cy="297.2" r="2.9" fill="#000"/>
<circle cx="139.6" cy="292.2" r="2.9" fill="#000"/>
<circle cx="158.5" cy="299.6" r="2.9" fill="#000"/>
<circle cx="177.4" cy="298.0" r="2.9" fill="#000"/>
<circle cx="196.4" cy="305.3" r="2.9" fill="#000"/>
<circle cx="215.3" cy="300.3" r="2.9" fill="#000"/>
<circle cx="234.3" cy="300.3" r="2.9" fill="#000"/>
<circle cx="253.2" cy="300.3" r="2.9" fill="#000"/>
<polyline points="63.8,389.0 82.7,382.3 101.7,392.3 120.6,386.5 139.6,379.5 158.5,386.1 177.4,384.5 196.4,374.7 215.3,385.0 234.3,395.9 253.2,389.1" fill="none" stroke="#000" stroke-width="1.7" stroke-linejoin="round"/>
<line x1="82.7" y1="380.3" x2="82.7" y2="384.0" stroke="#000" stroke-width="1.8"/>
<line x1="78.9" y1="380.3" x2="86.5" y2="380.3" stroke="#000" stroke-width="2.2"/>
<line x1="78.9" y1="384.0" x2="86.5" y2="384.0" stroke="#000" stroke-width="2.2"/>
<line x1="101.7" y1="384.6" x2="101.7" y2="400.2" stroke="#000" stroke-width="1.8"/>
<line x1="97.9" y1="384.6" x2="105.5" y2="384.6" stroke="#000" stroke-width="2.2"/>
<line x1="97.9" y1="400.2" x2="105.5" y2="400.2" stroke="#000" stroke-width="2.2"/>
<line x1="120.6" y1="378.6" x2="120.6" y2="393.5" stroke="#000" stroke-width="1.8"/>
<line x1="116.8" y1="378.6" x2="124.4" y2="378.6" stroke="#000" stroke-width="2.2"/>
<line x1="116.8" y1="393.5" x2="124.4" y2="393.5" stroke="#000" stroke-width="2.2"/>
<line x1="139.6" y1="375.8" x2="139.6" y2="382.7" stroke="#000" stroke-width="1.8"/>
<line x1="135.8" y1="375.8" x2="143.4" y2="375.8" stroke="#000" stroke-width="2.2"/>
<line x1="135.8" y1="382.7" x2="143.4" y2="382.7" stroke="#000" stroke-width="2.2"/>
<line x1="158.5" y1="382.0" x2="158.5" y2="390.2" stroke="#000" stroke-width="1.8"/>
<line x1="154.7" y1="382.0" x2="162.3" y2="382.0" stroke="#000" stroke-width="2.2"/>
<line x1="154.7" y1="390.2" x2="162.3" y2="390.2" stroke="#000" stroke-width="2.2"/>
<line x1="177.4" y1="379.3" x2="177.4" y2="388.4" stroke="#000" stroke-width="1.8"/>
<line x1="173.6" y1="379.3" x2="181.2" y2="379.3" stroke="#000" stroke-width="2.2"/>
<line x1="173.6" y1="388.4" x2="181.2" y2="388.4" stroke="#000" stroke-width="2.2"/>
<line x1="196.4" y1="370.6" x2="196.4" y2="378.1" stroke="#000" stroke-width="1.8"/>
<line x1="192.6" y1="370.6" x2="200.2" y2="370.6" stroke="#000" stroke-width="2.2"/>
<line x1="192.6" y1="378.1" x2="200.2" y2="378.1" stroke="#000" stroke-width="2.2"/>
<line x1="215.3" y1="381.1" x2="215.3" y2="388.8" stroke="#000" stroke-width="1.8"/>
<line x1="211.5" y1="381.1" x2="219.1" y2="381.1" stroke="#000" stroke-width="2.2"/>
<line x1="211.5" y1="388.8" x2="219.1" y2="388.8" stroke="#000" stroke-width="2.2"/>
<line x1="253.2" y1="383.8" x2="253.2" y2="394.5" stroke="#000" stroke-width="1.8"/>
<line x1="249.4" y1="383.8" x2="257.0" y2="383.8" stroke="#000" stroke-width="2.2"/>
<line x1="249.4" y1="394.5" x2="257.0" y2="394.5" stroke="#000" stroke-width="2.2"/>
<rect x="61.0" y="386.2" width="5.6" height="5.6" fill="#000"/>
<rect x="79.9" y="379.5" width="5.6" height="5.6" fill="#000"/>
<rect x="98.9" y="389.5" width="5.6" height="5.6" fill="#000"/>
<rect x="117.8" y="383.7" width="5.6" height="5.6" fill="#000"/>
<rect x="136.8" y="376.7" width="5.6" height="5.6" fill="#000"/>
<rect x="155.7" y="383.3" width="5.6" height="5.6" fill="#000"/>
<rect x="174.6" y="381.7" width="5.6" height="5.6" fill="#000"/>
<rect x="193.6" y="371.9" width="5.6" height="5.6" fill="#000"/>
<rect x="212.5" y="382.2" width="5.6" height="5.6" fill="#000"/>
<rect x="231.5" y="393.1" width="5.6" height="5.6" fill="#000"/>
<rect x="250.4" y="386.3" width="5.6" height="5.6" fill="#000"/>
<line x1="276.4" y1="297.4" x2="292.3" y2="297.4" stroke="#000" stroke-width="1.7"/>
<circle cx="284.4" cy="297.4" r="2.9" fill="#000"/>
<text x="300.3" y="301.2" font-size="11" text-anchor="start" fill="#111" >ds-egfp</text>
<line x1="276.4" y1="313.4" x2="292.3" y2="313.4" stroke="#000" stroke-width="1.7"/>
<rect x="281.6" y="310.6" width="5.6" height="5.6" fill="#000"/>
<text x="300.3" y="317.2" font-size="11" text-anchor="start" fill="#111" >ds-Zpg</text>
<text transform="translate(3.60,277.50) scale(0.92,1)" font-size="22" font-weight="bold" text-anchor="start">C</text>
<text x="147.8" y="271.0" font-size="13" font-weight="bold" text-anchor="middle" fill="#000" >ZPG</text>
<line x1="387.1" y1="287.0" x2="387.1" y2="427.8" stroke="#000" stroke-width="1.5"/>
<line x1="386.3" y1="427.0" x2="595.2" y2="427.0" stroke="#000" stroke-width="1.5"/>
<line x1="382.6" y1="427.0" x2="387.1" y2="427.0" stroke="#000" stroke-width="1.5"/>
<text transform="translate(381.90,430.80) scale(0.9,1)" font-size="10.5" font-weight="bold" text-anchor="end">0.0</text>
<line x1="382.6" y1="399.2" x2="387.1" y2="399.2" stroke="#000" stroke-width="1.5"/>
<text transform="translate(381.90,402.96) scale(0.9,1)" font-size="10.5" font-weight="bold" text-anchor="end">0.2</text>
<line x1="382.6" y1="371.3" x2="387.1" y2="371.3" stroke="#000" stroke-width="1.5"/>
<text transform="translate(381.90,375.12) scale(0.9,1)" font-size="10.5" font-weight="bold" text-anchor="end">0.4</text>
<line x1="382.6" y1="343.5" x2="387.1" y2="343.5" stroke="#000" stroke-width="1.5"/>
<text transform="translate(381.90,347.28) scale(0.9,1)" font-size="10.5" font-weight="bold" text-anchor="end">0.6</text>
<line x1="382.6" y1="315.6" x2="387.1" y2="315.6" stroke="#000" stroke-width="1.5"/>
<text transform="translate(381.90,319.44) scale(0.9,1)" font-size="10.5" font-weight="bold" text-anchor="end">0.8</text>
<line x1="382.6" y1="287.8" x2="387.1" y2="287.8" stroke="#000" stroke-width="1.5"/>
<text transform="translate(381.90,291.60) scale(0.9,1)" font-size="10.5" font-weight="bold" text-anchor="end">1.0</text>
<line x1="396.0" y1="427.0" x2="396.0" y2="431.5" stroke="#000" stroke-width="1.5"/>
<text transform="translate(399.0,442.0) rotate(-45)" font-size="10" font-weight="bold" text-anchor="end">14th</text>
<line x1="414.9" y1="427.0" x2="414.9" y2="431.5" stroke="#000" stroke-width="1.5"/>
<text transform="translate(417.9,442.0) rotate(-45)" font-size="10" font-weight="bold" text-anchor="end">15th</text>
<line x1="433.9" y1="427.0" x2="433.9" y2="431.5" stroke="#000" stroke-width="1.5"/>
<text transform="translate(436.9,442.0) rotate(-45)" font-size="10" font-weight="bold" text-anchor="end">16th</text>
<line x1="452.8" y1="427.0" x2="452.8" y2="431.5" stroke="#000" stroke-width="1.5"/>
<text transform="translate(455.8,442.0) rotate(-45)" font-size="10" font-weight="bold" text-anchor="end">17th</text>
<line x1="471.8" y1="427.0" x2="471.8" y2="431.5" stroke="#000" stroke-width="1.5"/>
<text transform="translate(474.8,442.0) rotate(-45)" font-size="10" font-weight="bold" text-anchor="end">18th</text>
<line x1="490.7" y1="427.0" x2="490.7" y2="431.5" stroke="#000" stroke-width="1.5"/>
<text transform="translate(493.7,442.0) rotate(-45)" font-size="10" font-weight="bold" text-anchor="end">19th</text>
<line x1="509.6" y1="427.0" x2="509.6" y2="431.5" stroke="#000" stroke-width="1.5"/>
<text transform="translate(512.6,442.0) rotate(-45)" font-size="10" font-weight="bold" text-anchor="end">20th</text>
<line x1="528.6" y1="427.0" x2="528.6" y2="431.5" stroke="#000" stroke-width="1.5"/>
<text transform="translate(531.6,442.0) rotate(-45)" font-size="10" font-weight="bold" text-anchor="end">21st</text>
<line x1="547.5" y1="427.0" x2="547.5" y2="431.5" stroke="#000" stroke-width="1.5"/>
<text transform="translate(550.5,442.0) rotate(-45)" font-size="10" font-weight="bold" text-anchor="end">22nd</text>
<line x1="566.5" y1="427.0" x2="566.5" y2="431.5" stroke="#000" stroke-width="1.5"/>
<text transform="translate(569.5,442.0) rotate(-45)" font-size="10" font-weight="bold" text-anchor="end">23rd</text>
<line x1="585.4" y1="427.0" x2="585.4" y2="431.5" stroke="#000" stroke-width="1.5"/>
<text transform="translate(588.4,442.0) rotate(-45)" font-size="10" font-weight="bold" text-anchor="end">24th</text>
<polyline points="396.0,300.2 414.9,304.6 433.9,308.4 452.8,305.4 471.8,310.3 490.7,314.4 509.6,311.0 528.6,314.4 547.5,325.8 566.5,306.4 585.4,306.4" fill="none" stroke="#000" stroke-width="1.7" stroke-linejoin="round"/>
<line x1="414.9" y1="299.7" x2="414.9" y2="309.1" stroke="#000" stroke-width="1.8"/>
<line x1="411.1" y1="299.7" x2="418.7" y2="299.7" stroke="#000" stroke-width="2.2"/>
<line x1="411.1" y1="309.1" x2="418.7" y2="309.1" stroke="#000" stroke-width="2.2"/>
<line x1="433.9" y1="303.4" x2="433.9" y2="314.1" stroke="#000" stroke-width="1.8"/>
<line x1="430.1" y1="303.4" x2="437.7" y2="303.4" stroke="#000" stroke-width="2.2"/>
<line x1="430.1" y1="314.1" x2="437.7" y2="314.1" stroke="#000" stroke-width="2.2"/>
<line x1="452.8" y1="301.4" x2="452.8" y2="309.1" stroke="#000" stroke-width="1.8"/>
<line x1="449.0" y1="301.4" x2="456.6" y2="301.4" stroke="#000" stroke-width="2.2"/>
<line x1="449.0" y1="309.1" x2="456.6" y2="309.1" stroke="#000" stroke-width="2.2"/>
<line x1="471.8" y1="301.4" x2="471.8" y2="319.8" stroke="#000" stroke-width="1.8"/>
<line x1="468.0" y1="301.4" x2="475.6" y2="301.4" stroke="#000" stroke-width="2.2"/>
<line x1="468.0" y1="319.8" x2="475.6" y2="319.8" stroke="#000" stroke-width="2.2"/>
<line x1="490.7" y1="304.1" x2="490.7" y2="324.2" stroke="#000" stroke-width="1.8"/>
<line x1="486.9" y1="304.1" x2="494.5" y2="304.1" stroke="#000" stroke-width="2.2"/>
<line x1="486.9" y1="324.2" x2="494.5" y2="324.2" stroke="#000" stroke-width="2.2"/>
<line x1="509.6" y1="306.9" x2="509.6" y2="313.9" stroke="#000" stroke-width="1.8"/>
<line x1="505.8" y1="306.9" x2="513.4" y2="306.9" stroke="#000" stroke-width="2.2"/>
<line x1="505.8" y1="313.9" x2="513.4" y2="313.9" stroke="#000" stroke-width="2.2"/>
<line x1="547.5" y1="321.9" x2="547.5" y2="329.9" stroke="#000" stroke-width="1.8"/>
<line x1="543.7" y1="321.9" x2="551.3" y2="321.9" stroke="#000" stroke-width="2.2"/>
<line x1="543.7" y1="329.9" x2="551.3" y2="329.9" stroke="#000" stroke-width="2.2"/>
<line x1="566.5" y1="300.7" x2="566.5" y2="312.1" stroke="#000" stroke-width="1.8"/>
<line x1="562.7" y1="300.7" x2="570.3" y2="300.7" stroke="#000" stroke-width="2.2"/>
<line x1="562.7" y1="312.1" x2="570.3" y2="312.1" stroke="#000" stroke-width="2.2"/>
<circle cx="396.0" cy="300.2" r="2.9" fill="#000"/>
<circle cx="414.9" cy="304.6" r="2.9" fill="#000"/>
<circle cx="433.9" cy="308.4" r="2.9" fill="#000"/>
<circle cx="452.8" cy="305.4" r="2.9" fill="#000"/>
<circle cx="471.8" cy="310.3" r="2.9" fill="#000"/>
<circle cx="490.7" cy="314.4" r="2.9" fill="#000"/>
<circle cx="509.6" cy="311.0" r="2.9" fill="#000"/>
<circle cx="528.6" cy="314.4" r="2.9" fill="#000"/>
<circle cx="547.5" cy="325.8" r="2.9" fill="#000"/>
<circle cx="566.5" cy="306.4" r="2.9" fill="#000"/>
<circle cx="585.4" cy="306.4" r="2.9" fill="#000"/>
<polyline points="396.0,367.9 414.9,361.2 433.9,373.6 452.8,370.4 471.8,376.8 490.7,382.2 509.6,380.0 528.6,374.7 547.5,384.3 566.5,400.4 585.4,393.6" fill="none" stroke="#000" stroke-width="1.7" stroke-linejoin="round"/>
<line x1="396.0" y1="363.5" x2="396.0" y2="372.1" stroke="#000" stroke-width="1.8"/>
<line x1="392.2" y1="363.5" x2="399.8" y2="363.5" stroke="#000" stroke-width="2.2"/>
<line x1="392.2" y1="372.1" x2="399.8" y2="372.1" stroke="#000" stroke-width="2.2"/>
<line x1="414.9" y1="358.7" x2="414.9" y2="364.2" stroke="#000" stroke-width="1.8"/>
<line x1="411.1" y1="358.7" x2="418.7" y2="358.7" stroke="#000" stroke-width="2.2"/>
<line x1="411.1" y1="364.2" x2="418.7" y2="364.2" stroke="#000" stroke-width="2.2"/>
<line x1="433.9" y1="363.5" x2="433.9" y2="383.6" stroke="#000" stroke-width="1.8"/>
<line x1="430.1" y1="363.5" x2="437.7" y2="363.5" stroke="#000" stroke-width="2.2"/>
<line x1="430.1" y1="383.6" x2="437.7" y2="383.6" stroke="#000" stroke-width="2.2"/>
<line x1="452.8" y1="364.7" x2="452.8" y2="376.1" stroke="#000" stroke-width="1.8"/>
<line x1="449.0" y1="364.7" x2="456.6" y2="364.7" stroke="#000" stroke-width="2.2"/>
<line x1="449.0" y1="376.1" x2="456.6" y2="376.1" stroke="#000" stroke-width="2.2"/>
<line x1="471.8" y1="373.6" x2="471.8" y2="380.4" stroke="#000" stroke-width="1.8"/>
<line x1="468.0" y1="373.6" x2="475.6" y2="373.6" stroke="#000" stroke-width="2.2"/>
<line x1="468.0" y1="380.4" x2="475.6" y2="380.4" stroke="#000" stroke-width="2.2"/>
<line x1="509.6" y1="374.0" x2="509.6" y2="385.0" stroke="#000" stroke-width="1.8"/>
<line x1="505.8" y1="374.0" x2="513.4" y2="374.0" stroke="#000" stroke-width="2.2"/>
<line x1="505.8" y1="385.0" x2="513.4" y2="385.0" stroke="#000" stroke-width="2.2"/>
<line x1="547.5" y1="376.3" x2="547.5" y2="392.2" stroke="#000" stroke-width="1.8"/>
<line x1="543.7" y1="376.3" x2="551.3" y2="376.3" stroke="#000" stroke-width="2.2"/>
<line x1="543.7" y1="392.2" x2="551.3" y2="392.2" stroke="#000" stroke-width="2.2"/>
<line x1="585.4" y1="388.8" x2="585.4" y2="398.2" stroke="#000" stroke-width="1.8"/>
<line x1="581.6" y1="388.8" x2="589.2" y2="388.8" stroke="#000" stroke-width="2.2"/>
<line x1="581.6" y1="398.2" x2="589.2" y2="398.2" stroke="#000" stroke-width="2.2"/>
<rect x="393.2" y="365.1" width="5.6" height="5.6" fill="#000"/>
<rect x="412.1" y="358.4" width="5.6" height="5.6" fill="#000"/>
<rect x="431.1" y="370.8" width="5.6" height="5.6" fill="#000"/>
<rect x="450.0" y="367.6" width="5.6" height="5.6" fill="#000"/>
<rect x="469.0" y="374.0" width="5.6" height="5.6" fill="#000"/>
<rect x="487.9" y="379.4" width="5.6" height="5.6" fill="#000"/>
<rect x="506.8" y="377.2" width="5.6" height="5.6" fill="#000"/>
<rect x="525.8" y="371.9" width="5.6" height="5.6" fill="#000"/>
<rect x="544.7" y="381.5" width="5.6" height="5.6" fill="#000"/>
<rect x="563.7" y="397.6" width="5.6" height="5.6" fill="#000"/>
<rect x="582.6" y="390.8" width="5.6" height="5.6" fill="#000"/>
<line x1="608.6" y1="297.7" x2="624.3" y2="297.7" stroke="#000" stroke-width="1.7"/>
<circle cx="616.5" cy="297.7" r="2.9" fill="#000"/>
<text x="632.2" y="301.5" font-size="11" text-anchor="start" fill="#111" >ds-egfp</text>
<line x1="608.6" y1="313.4" x2="624.3" y2="313.4" stroke="#000" stroke-width="1.7"/>
<rect x="613.7" y="310.6" width="5.6" height="5.6" fill="#000"/>
<text x="632.2" y="317.2" font-size="11" text-anchor="start" fill="#111" ></text>
<text x="632.2" y="320.6" font-size="11" text-anchor="start" fill="#111" >ds-dsx<tspan font-size="8.5" dy="-5.4">M</tspan></text>
<text transform="translate(336.30,277.50) scale(0.92,1)" font-size="22" font-weight="bold" text-anchor="start">D</text>
<text x="479.7" y="271.0" font-size="13" font-weight="bold" text-anchor="middle" fill="#000" >dsxM</text>
<line x1="54.3" y1="551.0" x2="54.3" y2="693.1999999999999" stroke="#000" stroke-width="1.5"/>
<line x1="53.5" y1="692.4" x2="264.6" y2="692.4" stroke="#000" stroke-width="1.5"/>
<line x1="49.8" y1="692.4" x2="54.3" y2="692.4" stroke="#000" stroke-width="1.5"/>
<text transform="translate(49.10,696.20) scale(0.9,1)" font-size="10.5" font-weight="bold" text-anchor="end">0.5</text>
<line x1="49.8" y1="664.3" x2="54.3" y2="664.3" stroke="#000" stroke-width="1.5"/>
<text transform="translate(49.10,668.08) scale(0.9,1)" font-size="10.5" font-weight="bold" text-anchor="end">0.6</text>
<line x1="49.8" y1="636.2" x2="54.3" y2="636.2" stroke="#000" stroke-width="1.5"/>
<text transform="translate(49.10,639.96) scale(0.9,1)" font-size="10.5" font-weight="bold" text-anchor="end">0.7</text>
<line x1="49.8" y1="608.0" x2="54.3" y2="608.0" stroke="#000" stroke-width="1.5"/>
<text transform="translate(49.10,611.84) scale(0.9,1)" font-size="10.5" font-weight="bold" text-anchor="end">0.8</text>
<line x1="49.8" y1="579.9" x2="54.3" y2="579.9" stroke="#000" stroke-width="1.5"/>
<text transform="translate(49.10,583.72) scale(0.9,1)" font-size="10.5" font-weight="bold" text-anchor="end">0.9</text>
<line x1="49.8" y1="551.8" x2="54.3" y2="551.8" stroke="#000" stroke-width="1.5"/>
<text transform="translate(49.10,555.60) scale(0.9,1)" font-size="10.5" font-weight="bold" text-anchor="end">1.0</text>
<line x1="64.2" y1="692.4" x2="64.2" y2="696.9" stroke="#000" stroke-width="1.5"/>
<text transform="translate(67.2,707.4) rotate(-45)" font-size="10" font-weight="bold" text-anchor="end">14th</text>
<line x1="83.2" y1="692.4" x2="83.2" y2="696.9" stroke="#000" stroke-width="1.5"/>
<text transform="translate(86.2,707.4) rotate(-45)" font-size="10" font-weight="bold" text-anchor="end">15th</text>
<line x1="102.2" y1="692.4" x2="102.2" y2="696.9" stroke="#000" stroke-width="1.5"/>
<text transform="translate(105.2,707.4) rotate(-45)" font-size="10" font-weight="bold" text-anchor="end">16th</text>
<line x1="121.2" y1="692.4" x2="121.2" y2="696.9" stroke="#000" stroke-width="1.5"/>
<text transform="translate(124.2,707.4) rotate(-45)" font-size="10" font-weight="bold" text-anchor="end">17th</text>
<line x1="140.2" y1="692.4" x2="140.2" y2="696.9" stroke="#000" stroke-width="1.5"/>
<text transform="translate(143.2,707.4) rotate(-45)" font-size="10" font-weight="bold" text-anchor="end">18th</text>
<line x1="159.2" y1="692.4" x2="159.2" y2="696.9" stroke="#000" stroke-width="1.5"/>
<text transform="translate(162.2,707.4) rotate(-45)" font-size="10" font-weight="bold" text-anchor="end">19th</text>
<line x1="178.3" y1="692.4" x2="178.3" y2="696.9" stroke="#000" stroke-width="1.5"/>
<text transform="translate(181.3,707.4) rotate(-45)" font-size="10" font-weight="bold" text-anchor="end">20th</text>
<line x1="197.3" y1="692.4" x2="197.3" y2="696.9" stroke="#000" stroke-width="1.5"/>
<text transform="translate(200.3,707.4) rotate(-45)" font-size="10" font-weight="bold" text-anchor="end">21st</text>
<line x1="216.3" y1="692.4" x2="216.3" y2="696.9" stroke="#000" stroke-width="1.5"/>
<text transform="translate(219.3,707.4) rotate(-45)" font-size="10" font-weight="bold" text-anchor="end">22nd</text>
<line x1="235.3" y1="692.4" x2="235.3" y2="696.9" stroke="#000" stroke-width="1.5"/>
<text transform="translate(238.3,707.4) rotate(-45)" font-size="10" font-weight="bold" text-anchor="end">23rd</text>
<line x1="254.3" y1="692.4" x2="254.3" y2="696.9" stroke="#000" stroke-width="1.5"/>
<text transform="translate(257.3,707.4) rotate(-45)" font-size="10" font-weight="bold" text-anchor="end">24th</text>
<polyline points="64.2,576.6 83.2,584.0 102.2,594.2 121.2,586.8 140.2,597.2 159.2,604.9 178.3,597.1 197.3,605.5 216.3,628.3 235.3,589.4 254.3,589.9" fill="none" stroke="#000" stroke-width="1.7" stroke-linejoin="round"/>
<line x1="64.2" y1="573.0" x2="64.2" y2="579.9" stroke="#000" stroke-width="1.8"/>
<line x1="60.4" y1="573.0" x2="68.0" y2="573.0" stroke="#000" stroke-width="2.2"/>
<line x1="60.4" y1="579.9" x2="68.0" y2="579.9" stroke="#000" stroke-width="2.2"/>
<line x1="83.2" y1="575.8" x2="83.2" y2="593.1" stroke="#000" stroke-width="1.8"/>
<line x1="79.4" y1="575.8" x2="87.0" y2="575.8" stroke="#000" stroke-width="2.2"/>
<line x1="79.4" y1="593.1" x2="87.0" y2="593.1" stroke="#000" stroke-width="2.2"/>
<line x1="102.2" y1="583.2" x2="102.2" y2="606.9" stroke="#000" stroke-width="1.8"/>
<line x1="98.4" y1="583.2" x2="106.0" y2="583.2" stroke="#000" stroke-width="2.2"/>
<line x1="98.4" y1="606.9" x2="106.0" y2="606.9" stroke="#000" stroke-width="2.2"/>
<line x1="121.2" y1="578.5" x2="121.2" y2="595.0" stroke="#000" stroke-width="1.8"/>
<line x1="117.4" y1="578.5" x2="125.0" y2="578.5" stroke="#000" stroke-width="2.2"/>
<line x1="117.4" y1="595.0" x2="125.0" y2="595.0" stroke="#000" stroke-width="2.2"/>
<line x1="140.2" y1="579.6" x2="140.2" y2="615.6" stroke="#000" stroke-width="1.8"/>
<line x1="136.4" y1="579.6" x2="144.0" y2="579.6" stroke="#000" stroke-width="2.2"/>
<line x1="136.4" y1="615.6" x2="144.0" y2="615.6" stroke="#000" stroke-width="2.2"/>
<line x1="159.2" y1="584.4" x2="159.2" y2="624.9" stroke="#000" stroke-width="1.8"/>
<line x1="155.4" y1="584.4" x2="163.1" y2="584.4" stroke="#000" stroke-width="2.2"/>
<line x1="155.4" y1="624.9" x2="163.1" y2="624.9" stroke="#000" stroke-width="2.2"/>
<line x1="178.3" y1="590.4" x2="178.3" y2="604.4" stroke="#000" stroke-width="1.8"/>
<line x1="174.5" y1="590.4" x2="182.1" y2="590.4" stroke="#000" stroke-width="2.2"/>
<line x1="174.5" y1="604.4" x2="182.1" y2="604.4" stroke="#000" stroke-width="2.2"/>
<line x1="216.3" y1="615.6" x2="216.3" y2="637.0" stroke="#000" stroke-width="1.8"/>
<line x1="212.5" y1="615.6" x2="220.1" y2="615.6" stroke="#000" stroke-width="2.2"/>
<line x1="212.5" y1="637.0" x2="220.1" y2="637.0" stroke="#000" stroke-width="2.2"/>
<line x1="235.3" y1="577.9" x2="235.3" y2="601.9" stroke="#000" stroke-width="1.8"/>
<line x1="231.5" y1="577.9" x2="239.1" y2="577.9" stroke="#000" stroke-width="2.2"/>
<line x1="231.5" y1="601.9" x2="239.1" y2="601.9" stroke="#000" stroke-width="2.2"/>
<line x1="254.3" y1="584.7" x2="254.3" y2="594.3" stroke="#000" stroke-width="1.8"/>
<line x1="250.5" y1="584.7" x2="258.1" y2="584.7" stroke="#000" stroke-width="2.2"/>
<line x1="250.5" y1="594.3" x2="258.1" y2="594.3" stroke="#000" stroke-width="2.2"/>
<circle cx="64.2" cy="576.6" r="2.9" fill="#000"/>
<circle cx="83.2" cy="584.0" r="2.9" fill="#000"/>
<circle cx="102.2" cy="594.2" r="2.9" fill="#000"/>
<circle cx="121.2" cy="586.8" r="2.9" fill="#000"/>
<circle cx="140.2" cy="597.2" r="2.9" fill="#000"/>
<circle cx="159.2" cy="604.9" r="2.9" fill="#000"/>
<circle cx="178.3" cy="597.1" r="2.9" fill="#000"/>
<circle cx="197.3" cy="605.5" r="2.9" fill="#000"/>
<circle cx="216.3" cy="628.3" r="2.9" fill="#000"/>
<circle cx="235.3" cy="589.4" r="2.9" fill="#000"/>
<circle cx="254.3" cy="589.9" r="2.9" fill="#000"/>
<polyline points="64.2,643.8 83.2,635.0 102.2,627.6 121.2,609.7 140.2,635.1 159.2,642.7 178.3,617.8 197.3,611.2 216.3,636.2 235.3,613.6 254.3,607.9" fill="none" stroke="#000" stroke-width="1.7" stroke-linejoin="round"/>
<line x1="64.2" y1="639.2" x2="64.2" y2="648.8" stroke="#000" stroke-width="1.8"/>
<line x1="60.4" y1="639.2" x2="68.0" y2="639.2" stroke="#000" stroke-width="2.2"/>
<line x1="60.4" y1="648.8" x2="68.0" y2="648.8" stroke="#000" stroke-width="2.2"/>
<line x1="83.2" y1="608.0" x2="83.2" y2="662.0" stroke="#000" stroke-width="1.8"/>
<line x1="79.4" y1="608.0" x2="87.0" y2="608.0" stroke="#000" stroke-width="2.2"/>
<line x1="79.4" y1="662.0" x2="87.0" y2="662.0" stroke="#000" stroke-width="2.2"/>
<line x1="102.2" y1="605.3" x2="102.2" y2="649.4" stroke="#000" stroke-width="1.8"/>
<line x1="98.4" y1="605.3" x2="106.0" y2="605.3" stroke="#000" stroke-width="2.2"/>
<line x1="98.4" y1="649.4" x2="106.0" y2="649.4" stroke="#000" stroke-width="2.2"/>
<line x1="121.2" y1="604.2" x2="121.2" y2="615.2" stroke="#000" stroke-width="1.8"/>
<line x1="117.4" y1="604.2" x2="125.0" y2="604.2" stroke="#000" stroke-width="2.2"/>
<line x1="117.4" y1="615.2" x2="125.0" y2="615.2" stroke="#000" stroke-width="2.2"/>
<line x1="140.2" y1="624.4" x2="140.2" y2="645.6" stroke="#000" stroke-width="1.8"/>
<line x1="136.4" y1="624.4" x2="144.0" y2="624.4" stroke="#000" stroke-width="2.2"/>
<line x1="136.4" y1="645.6" x2="144.0" y2="645.6" stroke="#000" stroke-width="2.2"/>
<line x1="159.2" y1="636.0" x2="159.2" y2="648.9" stroke="#000" stroke-width="1.8"/>
<line x1="155.4" y1="636.0" x2="163.1" y2="636.0" stroke="#000" stroke-width="2.2"/>
<line x1="155.4" y1="648.9" x2="163.1" y2="648.9" stroke="#000" stroke-width="2.2"/>
<line x1="178.3" y1="610.7" x2="178.3" y2="625.1" stroke="#000" stroke-width="1.8"/>
<line x1="174.5" y1="610.7" x2="182.1" y2="610.7" stroke="#000" stroke-width="2.2"/>
<line x1="174.5" y1="625.1" x2="182.1" y2="625.1" stroke="#000" stroke-width="2.2"/>
<line x1="197.3" y1="579.8" x2="197.3" y2="643.4" stroke="#000" stroke-width="1.8"/>
<line x1="193.5" y1="579.8" x2="201.1" y2="579.8" stroke="#000" stroke-width="2.2"/>
<line x1="193.5" y1="643.4" x2="201.1" y2="643.4" stroke="#000" stroke-width="2.2"/>
<line x1="216.3" y1="620.5" x2="216.3" y2="656.3" stroke="#000" stroke-width="1.8"/>
<line x1="212.5" y1="620.5" x2="220.1" y2="620.5" stroke="#000" stroke-width="2.2"/>
<line x1="212.5" y1="656.3" x2="220.1" y2="656.3" stroke="#000" stroke-width="2.2"/>
<line x1="235.3" y1="602.0" x2="235.3" y2="624.4" stroke="#000" stroke-width="1.8"/>
<line x1="231.5" y1="602.0" x2="239.1" y2="602.0" stroke="#000" stroke-width="2.2"/>
<line x1="231.5" y1="624.4" x2="239.1" y2="624.4" stroke="#000" stroke-width="2.2"/>
<line x1="254.3" y1="602.1" x2="254.3" y2="613.0" stroke="#000" stroke-width="1.8"/>
<line x1="250.5" y1="602.1" x2="258.1" y2="602.1" stroke="#000" stroke-width="2.2"/>
<line x1="250.5" y1="613.0" x2="258.1" y2="613.0" stroke="#000" stroke-width="2.2"/>
<rect x="61.4" y="641.0" width="5.6" height="5.6" fill="#000"/>
<rect x="80.4" y="632.2" width="5.6" height="5.6" fill="#000"/>
<rect x="99.4" y="624.8" width="5.6" height="5.6" fill="#000"/>
<rect x="118.4" y="606.9" width="5.6" height="5.6" fill="#000"/>
<rect x="137.4" y="632.3" width="5.6" height="5.6" fill="#000"/>
<rect x="156.4" y="639.9" width="5.6" height="5.6" fill="#000"/>
<rect x="175.5" y="615.0" width="5.6" height="5.6" fill="#000"/>
<rect x="194.5" y="608.4" width="5.6" height="5.6" fill="#000"/>
<rect x="213.5" y="633.4" width="5.6" height="5.6" fill="#000"/>
<rect x="232.5" y="610.8" width="5.6" height="5.6" fill="#000"/>
<rect x="251.5" y="605.1" width="5.6" height="5.6" fill="#000"/>
<line x1="278.1" y1="561.7" x2="293.7" y2="561.7" stroke="#000" stroke-width="1.7"/>
<circle cx="285.9" cy="561.7" r="2.9" fill="#000"/>
<text x="301.9" y="565.5" font-size="11" text-anchor="start" fill="#111" ></text>
<line x1="278.1" y1="578.0" x2="293.7" y2="578.0" stroke="#000" stroke-width="1.7"/>
<rect x="283.1" y="575.2" width="5.6" height="5.6" fill="#000"/>
<text x="301.9" y="581.8" font-size="11" text-anchor="start" fill="#111" ></text>
<text x="301.9" y="564.8" font-size="11" text-anchor="start" fill="#111" >ds-egfp</text>
<text x="301.9" y="581.2" font-size="11" text-anchor="start" fill="#111" >ds-FZO</text>
<text transform="translate(14.30,521.50) scale(0.92,1)" font-size="22" font-weight="bold" text-anchor="start">E</text>
<text x="149.2" y="535.2" font-size="13" font-weight="bold" text-anchor="middle" fill="#000" >Fzo</text>
<line x1="390.1" y1="555.7" x2="390.1" y2="693.1999999999999" stroke="#000" stroke-width="1.5"/>
<line x1="389.3" y1="692.4" x2="594.4" y2="692.4" stroke="#000" stroke-width="1.5"/>
<line x1="385.6" y1="692.4" x2="390.1" y2="692.4" stroke="#000" stroke-width="1.5"/>
<text transform="translate(384.90,696.20) scale(0.9,1)" font-size="10.5" font-weight="bold" text-anchor="end">0.5</text>
<line x1="385.6" y1="665.2" x2="390.1" y2="665.2" stroke="#000" stroke-width="1.5"/>
<text transform="translate(384.90,669.02) scale(0.9,1)" font-size="10.5" font-weight="bold" text-anchor="end">0.6</text>
<line x1="385.6" y1="638.0" x2="390.1" y2="638.0" stroke="#000" stroke-width="1.5"/>
<text transform="translate(384.90,641.84) scale(0.9,1)" font-size="10.5" font-weight="bold" text-anchor="end">0.7</text>
<line x1="385.6" y1="610.9" x2="390.1" y2="610.9" stroke="#000" stroke-width="1.5"/>
<text transform="translate(384.90,614.66) scale(0.9,1)" font-size="10.5" font-weight="bold" text-anchor="end">0.8</text>
<line x1="385.6" y1="583.7" x2="390.1" y2="583.7" stroke="#000" stroke-width="1.5"/>
<text transform="translate(384.90,587.48) scale(0.9,1)" font-size="10.5" font-weight="bold" text-anchor="end">0.9</text>
<line x1="385.6" y1="556.5" x2="390.1" y2="556.5" stroke="#000" stroke-width="1.5"/>
<text transform="translate(384.90,560.30) scale(0.9,1)" font-size="10.5" font-weight="bold" text-anchor="end">1.0</text>
<line x1="399.2" y1="692.4" x2="399.2" y2="696.9" stroke="#000" stroke-width="1.5"/>
<text transform="translate(402.2,707.4) rotate(-45)" font-size="10" font-weight="bold" text-anchor="end">14th</text>
<line x1="417.7" y1="692.4" x2="417.7" y2="696.9" stroke="#000" stroke-width="1.5"/>
<text transform="translate(420.7,707.4) rotate(-45)" font-size="10" font-weight="bold" text-anchor="end">15th</text>
<line x1="436.2" y1="692.4" x2="436.2" y2="696.9" stroke="#000" stroke-width="1.5"/>
<text transform="translate(439.2,707.4) rotate(-45)" font-size="10" font-weight="bold" text-anchor="end">16th</text>
<line x1="454.8" y1="692.4" x2="454.8" y2="696.9" stroke="#000" stroke-width="1.5"/>
<text transform="translate(457.8,707.4) rotate(-45)" font-size="10" font-weight="bold" text-anchor="end">17th</text>
<line x1="473.3" y1="692.4" x2="473.3" y2="696.9" stroke="#000" stroke-width="1.5"/>
<text transform="translate(476.3,707.4) rotate(-45)" font-size="10" font-weight="bold" text-anchor="end">18th</text>
<line x1="491.8" y1="692.4" x2="491.8" y2="696.9" stroke="#000" stroke-width="1.5"/>
<text transform="translate(494.8,707.4) rotate(-45)" font-size="10" font-weight="bold" text-anchor="end">19th</text>
<line x1="510.3" y1="692.4" x2="510.3" y2="696.9" stroke="#000" stroke-width="1.5"/>
<text transform="translate(513.3,707.4) rotate(-45)" font-size="10" font-weight="bold" text-anchor="end">20th</text>
<line x1="528.8" y1="692.4" x2="528.8" y2="696.9" stroke="#000" stroke-width="1.5"/>
<text transform="translate(531.8,707.4) rotate(-45)" font-size="10" font-weight="bold" text-anchor="end">21st</text>
<line x1="547.4" y1="692.4" x2="547.4" y2="696.9" stroke="#000" stroke-width="1.5"/>
<text transform="translate(550.4,707.4) rotate(-45)" font-size="10" font-weight="bold" text-anchor="end">22nd</text>
<line x1="565.9" y1="692.4" x2="565.9" y2="696.9" stroke="#000" stroke-width="1.5"/>
<text transform="translate(568.9,707.4) rotate(-45)" font-size="10" font-weight="bold" text-anchor="end">23rd</text>
<line x1="584.4" y1="692.4" x2="584.4" y2="696.9" stroke="#000" stroke-width="1.5"/>
<text transform="translate(587.4,707.4) rotate(-45)" font-size="10" font-weight="bold" text-anchor="end">24th</text>
<polyline points="399.2,579.9 417.7,586.8 436.2,596.4 454.8,589.6 473.3,599.6 491.8,606.7 510.3,599.6 528.8,607.8 547.4,628.9 565.9,592.2 584.4,592.7" fill="none" stroke="#000" stroke-width="1.7" stroke-linejoin="round"/>
<line x1="399.2" y1="575.8" x2="399.2" y2="582.7" stroke="#000" stroke-width="1.8"/>
<line x1="395.4" y1="575.8" x2="403.0" y2="575.8" stroke="#000" stroke-width="2.2"/>
<line x1="395.4" y1="582.7" x2="403.0" y2="582.7" stroke="#000" stroke-width="2.2"/>
<line x1="417.7" y1="579.4" x2="417.7" y2="596.4" stroke="#000" stroke-width="1.8"/>
<line x1="413.9" y1="579.4" x2="421.5" y2="579.4" stroke="#000" stroke-width="2.2"/>
<line x1="413.9" y1="596.4" x2="421.5" y2="596.4" stroke="#000" stroke-width="2.2"/>
<line x1="436.2" y1="586.2" x2="436.2" y2="606.9" stroke="#000" stroke-width="1.8"/>
<line x1="432.4" y1="586.2" x2="440.0" y2="586.2" stroke="#000" stroke-width="2.2"/>
<line x1="432.4" y1="606.9" x2="440.0" y2="606.9" stroke="#000" stroke-width="2.2"/>
<line x1="454.8" y1="581.8" x2="454.8" y2="596.4" stroke="#000" stroke-width="1.8"/>
<line x1="451.0" y1="581.8" x2="458.6" y2="581.8" stroke="#000" stroke-width="2.2"/>
<line x1="451.0" y1="596.4" x2="458.6" y2="596.4" stroke="#000" stroke-width="2.2"/>
<line x1="473.3" y1="582.2" x2="473.3" y2="618.5" stroke="#000" stroke-width="1.8"/>
<line x1="469.5" y1="582.2" x2="477.1" y2="582.2" stroke="#000" stroke-width="2.2"/>
<line x1="469.5" y1="618.5" x2="477.1" y2="618.5" stroke="#000" stroke-width="2.2"/>
<line x1="491.8" y1="587.3" x2="491.8" y2="624.5" stroke="#000" stroke-width="1.8"/>
<line x1="488.0" y1="587.3" x2="495.6" y2="587.3" stroke="#000" stroke-width="2.2"/>
<line x1="488.0" y1="624.5" x2="495.6" y2="624.5" stroke="#000" stroke-width="2.2"/>
<line x1="510.3" y1="593.3" x2="510.3" y2="606.7" stroke="#000" stroke-width="1.8"/>
<line x1="506.5" y1="593.3" x2="514.1" y2="593.3" stroke="#000" stroke-width="2.2"/>
<line x1="506.5" y1="606.7" x2="514.1" y2="606.7" stroke="#000" stroke-width="2.2"/>
<line x1="528.8" y1="600.0" x2="528.8" y2="615.0" stroke="#000" stroke-width="1.8"/>
<line x1="525.0" y1="600.0" x2="532.6" y2="600.0" stroke="#000" stroke-width="2.2"/>
<line x1="525.0" y1="615.0" x2="532.6" y2="615.0" stroke="#000" stroke-width="2.2"/>
<line x1="547.4" y1="615.0" x2="547.4" y2="641.0" stroke="#000" stroke-width="1.8"/>
<line x1="543.6" y1="615.0" x2="551.2" y2="615.0" stroke="#000" stroke-width="2.2"/>
<line x1="543.6" y1="641.0" x2="551.2" y2="641.0" stroke="#000" stroke-width="2.2"/>
<line x1="565.9" y1="580.7" x2="565.9" y2="603.7" stroke="#000" stroke-width="1.8"/>
<line x1="562.1" y1="580.7" x2="569.7" y2="580.7" stroke="#000" stroke-width="2.2"/>
<line x1="562.1" y1="603.7" x2="569.7" y2="603.7" stroke="#000" stroke-width="2.2"/>
<line x1="584.4" y1="587.1" x2="584.4" y2="598.3" stroke="#000" stroke-width="1.8"/>
<line x1="580.6" y1="587.1" x2="588.2" y2="587.1" stroke="#000" stroke-width="2.2"/>
<line x1="580.6" y1="598.3" x2="588.2" y2="598.3" stroke="#000" stroke-width="2.2"/>
<circle cx="399.2" cy="579.9" r="2.9" fill="#000"/>
<circle cx="417.7" cy="586.8" r="2.9" fill="#000"/>
<circle cx="436.2" cy="596.4" r="2.9" fill="#000"/>
<circle cx="454.8" cy="589.6" r="2.9" fill="#000"/>
<circle cx="473.3" cy="599.6" r="2.9" fill="#000"/>
<circle cx="491.8" cy="606.7" r="2.9" fill="#000"/>
<circle cx="510.3" cy="599.6" r="2.9" fill="#000"/>
<circle cx="528.8" cy="607.8" r="2.9" fill="#000"/>
<circle cx="547.4" cy="628.9" r="2.9" fill="#000"/>
<circle cx="565.9" cy="592.2" r="2.9" fill="#000"/>
<circle cx="584.4" cy="592.7" r="2.9" fill="#000"/>
<polyline points="399.2,616.3 417.7,606.9 436.2,624.0 454.8,611.0 473.3,634.4 491.8,648.2 510.3,620.4 528.8,612.2 547.4,632.9 565.9,598.2 584.4,594.4" fill="none" stroke="#000" stroke-width="1.7" stroke-linejoin="round"/>
<line x1="399.2" y1="610.2" x2="399.2" y2="622.6" stroke="#000" stroke-width="1.8"/>
<line x1="395.4" y1="610.2" x2="403.0" y2="610.2" stroke="#000" stroke-width="2.2"/>
<line x1="395.4" y1="622.6" x2="403.0" y2="622.6" stroke="#000" stroke-width="2.2"/>
<line x1="417.7" y1="582.7" x2="417.7" y2="629.5" stroke="#000" stroke-width="1.8"/>
<line x1="413.9" y1="582.7" x2="421.5" y2="582.7" stroke="#000" stroke-width="2.2"/>
<line x1="413.9" y1="629.5" x2="421.5" y2="629.5" stroke="#000" stroke-width="2.2"/>
<line x1="436.2" y1="618.5" x2="436.2" y2="629.0" stroke="#000" stroke-width="1.8"/>
<line x1="432.4" y1="618.5" x2="440.0" y2="618.5" stroke="#000" stroke-width="2.2"/>
<line x1="432.4" y1="629.0" x2="440.0" y2="629.0" stroke="#000" stroke-width="2.2"/>
<line x1="473.3" y1="619.2" x2="473.3" y2="648.9" stroke="#000" stroke-width="1.8"/>
<line x1="469.5" y1="619.2" x2="477.1" y2="619.2" stroke="#000" stroke-width="2.2"/>
<line x1="469.5" y1="648.9" x2="477.1" y2="648.9" stroke="#000" stroke-width="2.2"/>
<line x1="491.8" y1="626.6" x2="491.8" y2="671.8" stroke="#000" stroke-width="1.8"/>
<line x1="488.0" y1="626.6" x2="495.6" y2="626.6" stroke="#000" stroke-width="2.2"/>
<line x1="488.0" y1="671.8" x2="495.6" y2="671.8" stroke="#000" stroke-width="2.2"/>
<line x1="510.3" y1="607.1" x2="510.3" y2="631.8" stroke="#000" stroke-width="1.8"/>
<line x1="506.5" y1="607.1" x2="514.1" y2="607.1" stroke="#000" stroke-width="2.2"/>
<line x1="506.5" y1="631.8" x2="514.1" y2="631.8" stroke="#000" stroke-width="2.2"/>
<line x1="528.8" y1="605.6" x2="528.8" y2="625.6" stroke="#000" stroke-width="1.8"/>
<line x1="525.0" y1="605.6" x2="532.6" y2="605.6" stroke="#000" stroke-width="2.2"/>
<line x1="525.0" y1="625.6" x2="532.6" y2="625.6" stroke="#000" stroke-width="2.2"/>
<line x1="547.4" y1="622.2" x2="547.4" y2="651.6" stroke="#000" stroke-width="1.8"/>
<line x1="543.6" y1="622.2" x2="551.2" y2="622.2" stroke="#000" stroke-width="2.2"/>
<line x1="543.6" y1="651.6" x2="551.2" y2="651.6" stroke="#000" stroke-width="2.2"/>
<line x1="565.9" y1="592.0" x2="565.9" y2="604.4" stroke="#000" stroke-width="1.8"/>
<line x1="562.1" y1="592.0" x2="569.7" y2="592.0" stroke="#000" stroke-width="2.2"/>
<line x1="562.1" y1="604.4" x2="569.7" y2="604.4" stroke="#000" stroke-width="2.2"/>
<line x1="584.4" y1="588.4" x2="584.4" y2="600.4" stroke="#000" stroke-width="1.8"/>
<line x1="580.6" y1="588.4" x2="588.2" y2="588.4" stroke="#000" stroke-width="2.2"/>
<line x1="580.6" y1="600.4" x2="588.2" y2="600.4" stroke="#000" stroke-width="2.2"/>
<rect x="396.4" y="613.5" width="5.6" height="5.6" fill="#000"/>
<rect x="414.9" y="604.1" width="5.6" height="5.6" fill="#000"/>
<rect x="433.4" y="621.2" width="5.6" height="5.6" fill="#000"/>
<rect x="452.0" y="608.2" width="5.6" height="5.6" fill="#000"/>
<rect x="470.5" y="631.6" width="5.6" height="5.6" fill="#000"/>
<rect x="489.0" y="645.4" width="5.6" height="5.6" fill="#000"/>
<rect x="507.5" y="617.6" width="5.6" height="5.6" fill="#000"/>
<rect x="526.0" y="609.4" width="5.6" height="5.6" fill="#000"/>
<rect x="544.6" y="630.1" width="5.6" height="5.6" fill="#000"/>
<rect x="563.1" y="595.4" width="5.6" height="5.6" fill="#000"/>
<rect x="581.6" y="591.6" width="5.6" height="5.6" fill="#000"/>
<line x1="607.4" y1="565.1" x2="622.5" y2="565.1" stroke="#000" stroke-width="1.7"/>
<circle cx="615.0" cy="565.1" r="2.9" fill="#000"/>
<text x="630.5" y="568.9" font-size="11" text-anchor="start" fill="#111" >ds-egfp</text>
<line x1="607.4" y1="580.9" x2="622.5" y2="580.9" stroke="#000" stroke-width="1.7"/>
<rect x="612.2" y="578.1" width="5.6" height="5.6" fill="#000"/>
<text x="630.5" y="584.7" font-size="11" text-anchor="start" fill="#111" >ds-Gas8</text>
<text transform="translate(336.30,521.50) scale(0.92,1)" font-size="22" font-weight="bold" text-anchor="start">F</text>
<text x="481.9" y="539.3" font-size="13" font-weight="bold" text-anchor="middle" fill="#000" >Gas8</text>
</svg>
</body></html>
